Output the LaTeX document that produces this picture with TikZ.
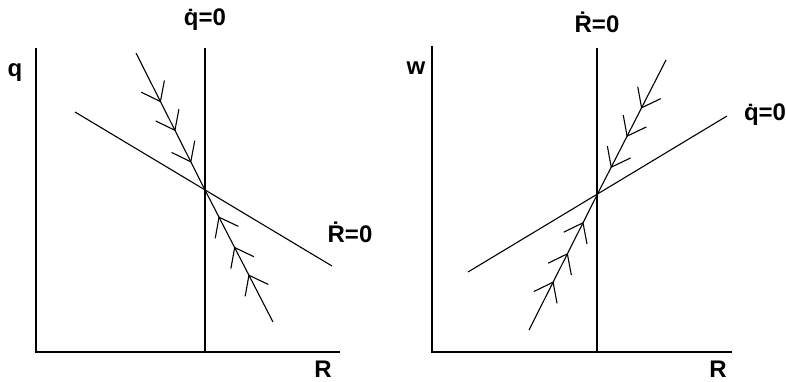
\documentclass[tikz,border=0pt]{standalone}
\usepackage{fontspec}
\setmainfont{Liberation Sans}
\usetikzlibrary{arrows.meta, decorations.markings}

\begin{document}
\begin{tikzpicture}[
    x=1pt, y=-1pt,
    every node/.style={font=\fontsize{24}{28}\selectfont\bfseries, inner sep=0pt},
    curve/.style={line width=1.1pt},
    saddle/.style={line width=1.1pt, postaction={decorate},
        decoration={markings,
            mark=at position 0.36 with {\arrow{Straight Barb[length=17pt, width=26pt, line width=1.1pt]}},
            mark=at position 0.57 with {\arrow{Straight Barb[length=17pt, width=26pt, line width=1.1pt]}},
            mark=at position 0.80 with {\arrow{Straight Barb[length=17pt, width=26pt, line width=1.1pt]}}}}
]
    \useasboundingbox (0,0) rectangle (786,382);

    % left diagram: (R,q)
    \coordinate (O1) at (36,352);
    \coordinate (Y1) at (36,48);
    \coordinate (X1) at (340,352);
    \coordinate (E1) at (205,190);
    \coordinate (V1t) at (205,48);
    \coordinate (V1b) at (205,352);
    \coordinate (L1a) at (75,112);
    \coordinate (L1b) at (332,266);
    \coordinate (S1a) at (136,53);
    \coordinate (S1b) at (273,322);
    \draw[curve] (Y1) -- (O1) -- (X1);
    \draw[curve] (V1t) -- (V1b);
    \draw[curve] (L1a) -- (L1b);
    \draw[saddle] (S1a) -- (E1);
    \draw[saddle] (S1b) -- (E1);
    \node (q) at (15,73) {q};
    \node (R1) at (323,369) {R};
    \node (qdot1) at (205,20) {\.{q}=0};
    \node (Rdot1) at (350,232) {\.{R}=0};

    % right diagram: (R,w)
    \coordinate (O2) at (432,352);
    \coordinate (Y2) at (432,46);
    \coordinate (X2) at (732,352);
    \coordinate (E2) at (597,195);
    \coordinate (V2t) at (597,48);
    \coordinate (V2b) at (597,352);
    \coordinate (L2a) at (468,272);
    \coordinate (L2b) at (727,116);
    \coordinate (S2a) at (666,60);
    \coordinate (S2b) at (529,330);
    \draw[curve] (Y2) -- (O2) -- (X2);
    \draw[curve] (V2t) -- (V2b);
    \draw[curve] (L2a) -- (L2b);
    \draw[saddle] (S2a) -- (E2);
    \draw[saddle] (S2b) -- (E2);
    \node (w) at (416,68) {w};
    \node (R2) at (718,369) {R};
    \node (Rdot2) at (597,22) {\.{R}=0};
    \node (qdot2) at (765,115) {\.{q}=0};
\end{tikzpicture}
\end{document}
